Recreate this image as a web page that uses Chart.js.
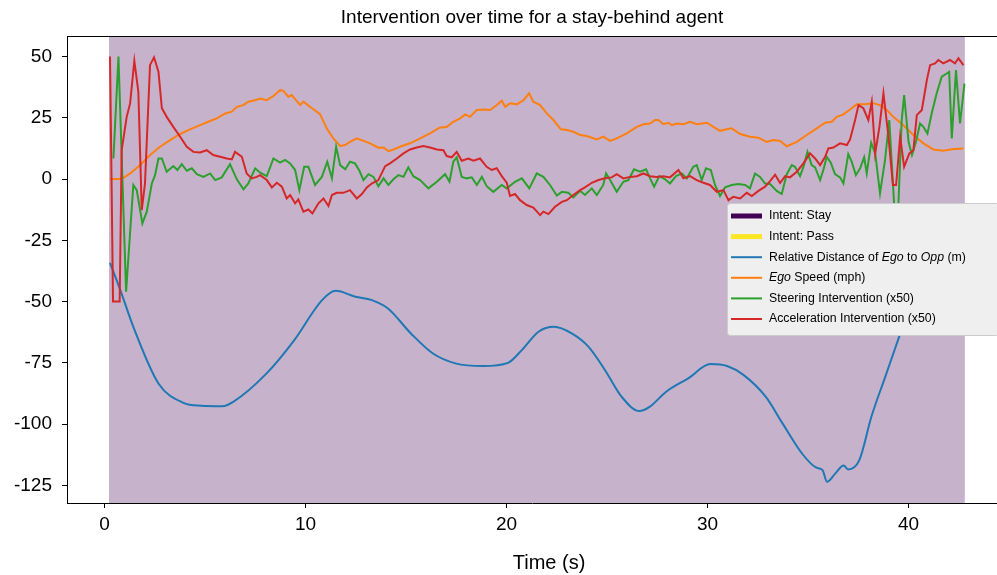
<!DOCTYPE html>
<html>
<head>
<meta charset="utf-8">
<title>Intervention over time</title>
<script src="https://cdn.jsdelivr.net/npm/chart.js@4.4.1/dist/chart.umd.min.js"></script>
<style>
  html, body { margin: 0; padding: 0; background: #fff; overflow: hidden; }
  #wrap { width: 997px; height: 575px; position: relative; }
</style>
</head>
<body>
<div id="wrap"><canvas id="myChart"></canvas></div>
<script>
// Intent spans (seconds)
const intentStart = [0.22];
const intentEnd = [42.8];
const intentName = ['Stay'];

// Relative distance of ego to opponent (m)
const distT = [0.27, 0.77, 1.43, 2.68, 3.92, 4.8, 5.85, 6.4, 8.06, 9.44, 10.82, 11.5, 12.48, 13.3, 14.1, 15.24, 16.34, 17.45, 18.83, 20.07, 20.76, 21.59, 22.36, 23.24, 24.07, 24.9, 25.73, 26.61, 27.11, 27.94, 29.04, 30.14, 30.97, 31.8, 32.9, 33.73, 34.7, 35.39, 35.72, 35.94, 36.36, 36.77, 36.99, 37.55, 38.15, 38.84, 39.53, 40.0, 40.5, 41.0, 41.5, 42.0, 42.75];
const distV = [-34.2, -45, -60.3, -83.4, -91.3, -92.5, -92.7, -90.9, -79.3, -65.7, -49.4, -45.6, -48, -49.4, -52.8, -63, -71.2, -75.2, -76.3, -75, -69.8, -62.3, -60.3, -63, -68.4, -78, -88.9, -94.7, -93, -86.8, -81.3, -75.5, -76.3, -80, -88.9, -99.7, -112, -117.7, -118.8, -123.5, -120.1, -116.9, -118.5, -114.7, -97, -80.7, -64.4, -53, -43, -35, -28, -23, -20];

// Ego speed (mph)
const speedT = [0.27, 0.85, 1.27, 1.77, 2.26, 2.76, 3.26, 3.76, 4.25, 4.75, 5.25, 5.58, 6.0, 6.33, 6.58, 6.9, 7.15, 7.49, 7.74, 8.07, 8.4, 8.73, 8.9, 9.14, 9.31, 9.73, 9.89, 10.22, 10.72, 11.05, 11.38, 11.72, 11.97, 12.21, 12.55, 12.88, 13.21, 13.62, 13.88, 14.12, 14.37, 14.79, 15.2, 15.7, 16.19, 16.69, 17.02, 17.35, 17.69, 17.94, 18.18, 18.52, 18.85, 19.18, 19.52, 19.76, 19.93, 20.17, 20.51, 20.84, 21.12, 21.33, 21.67, 22.0, 22.33, 22.7, 23.0, 23.32, 23.66, 23.99, 24.49, 24.81, 25.15, 25.48, 25.98, 26.48, 26.81, 27.14, 27.39, 27.55, 27.8, 28.05, 28.22, 28.47, 28.8, 29.13, 29.46, 29.96, 30.29, 30.62, 30.95, 31.2, 31.62, 32.11, 32.53, 32.94, 33.27, 33.61, 33.94, 34.44, 34.93, 35.43, 35.85, 36.18, 36.43, 36.76, 37.09, 37.42, 37.84, 38.25, 38.58, 38.92, 39.24, 39.74, 40.24, 40.74, 41.23, 41.73, 42.15, 42.73];
const speedV = [0, 0, 2.3, 5.7, 9.8, 13.2, 15.9, 18.4, 20.3, 22, 23.7, 24.8, 26.8, 27.5, 29.5, 30.2, 31.6, 32.2, 32.9, 32.2, 33.9, 36.3, 36, 33.6, 34.3, 30.2, 31.6, 29.5, 26.5, 20.7, 16.6, 13.5, 13.9, 15.2, 16.6, 15.6, 14.6, 12.8, 12.9, 11.4, 12.1, 13.5, 14.6, 16.6, 18.7, 21.1, 21.3, 23.4, 24.8, 26.4, 25.4, 28.2, 28.4, 28.2, 30.2, 32, 29.5, 30.9, 30.5, 32.2, 35, 31.6, 30.2, 26.8, 24.1, 20.3, 20, 19.3, 18, 17.6, 16.2, 17.3, 15.6, 16.6, 18.7, 21.3, 22.4, 22.7, 24.1, 24.1, 22.4, 23, 22, 22.7, 22.4, 23.4, 22.4, 23, 21.3, 19.7, 20.3, 20.7, 18.4, 17.3, 16.9, 15.2, 15.9, 15.6, 13.4, 15.2, 18, 20.7, 23, 23.4, 25.4, 26.4, 28.4, 30.5, 30.5, 30.9, 30.2, 28.2, 25.4, 22, 18, 14.6, 12.1, 11.6, 12.2, 12.5];

// Steering intervention (x50)
const steerT = [0.44, 0.69, 1.07, 1.43, 1.6, 1.88, 2.1, 2.35, 2.51, 2.68, 2.85, 3.09, 3.42, 3.62, 3.84, 4.09, 4.34, 4.59, 4.92, 5.25, 5.5, 5.83, 6.24, 6.58, 6.91, 7.15, 7.49, 7.74, 8.07, 8.4, 8.73, 8.98, 9.23, 9.48, 9.69, 9.93, 10.14, 10.47, 10.81, 11.08, 11.31, 11.52, 11.72, 11.97, 12.21, 12.46, 12.68, 12.88, 13.13, 13.38, 13.62, 13.88, 14.12, 14.37, 14.62, 14.87, 15.11, 15.36, 15.7, 16.11, 16.53, 16.94, 17.16, 17.35, 17.52, 17.77, 18.02, 18.27, 18.52, 18.77, 19.01, 19.34, 19.76, 20.01, 20.42, 20.76, 21.13, 21.5, 21.83, 22.16, 22.5, 22.75, 23.07, 23.32, 23.66, 23.9, 24.24, 24.49, 24.81, 24.95, 25.15, 25.48, 25.81, 26.06, 26.34, 26.64, 26.94, 27.14, 27.34, 27.6, 27.89, 28.13, 28.43, 28.72, 28.97, 29.29, 29.46, 29.71, 29.92, 30.16, 30.37, 30.62, 30.87, 31.2, 31.53, 31.87, 32.11, 32.36, 32.61, 32.86, 33.11, 33.44, 33.69, 33.94, 34.19, 34.35, 34.6, 34.77, 34.97, 35.18, 35.35, 35.6, 35.76, 35.93, 36.13, 36.34, 36.59, 36.76, 37.0, 37.17, 37.38, 37.59, 37.79, 37.92, 38.14, 38.34, 38.58, 38.83, 39.04, 39.28, 39.49, 39.66, 39.78, 40.0, 40.17, 40.37, 40.57, 40.74, 40.94, 41.15, 41.4, 41.65, 41.9, 42.02, 42.15, 42.36, 42.56, 42.78];
const steerV = [8.4, 50, -46, -2.4, -4.5, -18.1, -13.3, -1.8, 1.6, 8.4, 8.4, 3, 5.3, 3.7, 6.1, 3.4, 4.4, 2, 0.9, 2.3, -0.4, 0.7, 6.1, -0.1, -4.2, -1.8, 4.4, 2.6, 1.2, 8.4, 6.7, 7.8, 6.4, 3.7, -4.5, 5, 5, -2.4, 0.9, 7.1, 0.3, 13.2, 5.7, 4, 7.1, 6.4, 3.4, -0.4, 2, 0.9, -2.9, 0.3, -2.4, -0.1, 1.6, 0.9, 4.8, 1.2, -0.4, -3.8, -1.1, 2, -1.1, 7.1, 8.9, 0.9, 0.3, 0.7, -2.4, 0.9, -2.9, -5.2, -2.4, -3.8, -1.1, 0.3, -3.8, 2.3, 0.9, -2.4, -6.7, -5.2, -5.6, -7.5, -4.8, -6.5, -3.8, -6.5, -2.4, 2.3, -0.4, -5.2, -1.1, -0.4, 4, 3, 4, 0.3, -3.1, 1.2, -0.1, -1.8, 1.2, 2.3, 0.3, 5, 5.7, -0.4, 4.4, 3.7, -2.4, -6.9, -3.4, -2.4, -2, -2.4, -3.8, 2.3, 0.9, -1.8, -2, -4.8, -6.1, 2, 5.7, 5, 1.2, 5, 11.1, 5.7, 4.8, -0.4, 3.7, 9.1, 6.7, 2, 0.7, -1.8, 10.2, 7.1, 1.6, 4.4, 8.9, 2.3, 14.8, 10.5, -5.8, 7.8, 24.1, -9.9, -11.3, 24.1, 34.3, 15.2, 9.8, 15.2, 22.7, 21.3, 18.6, 26.8, 35, 41.8, 43.1, 43.8, 16.6, 44.5, 22.7, 39];

// Acceleration intervention (x50)
const accelT = [0.27, 0.42, 0.75, 0.85, 1.1, 1.27, 1.48, 1.68, 1.85, 2.01, 2.26, 2.46, 2.68, 2.85, 3.09, 3.42, 3.76, 4.09, 4.42, 4.75, 5.08, 5.41, 5.75, 6.08, 6.33, 6.49, 6.83, 7.07, 7.32, 7.57, 7.74, 8.07, 8.32, 8.57, 8.82, 9.06, 9.23, 9.48, 9.64, 9.89, 10.14, 10.34, 10.64, 10.89, 11.14, 11.31, 11.55, 11.88, 12.21, 12.55, 12.8, 13.05, 13.29, 13.62, 13.96, 14.2, 14.54, 14.87, 15.2, 15.53, 15.86, 16.19, 16.53, 16.86, 17.02, 17.27, 17.52, 17.77, 18.1, 18.35, 18.68, 19.01, 19.26, 19.51, 19.76, 20.01, 20.17, 20.42, 20.67, 21.0, 21.33, 21.67, 21.83, 22.08, 22.41, 22.75, 23.0, 23.32, 23.66, 23.9, 24.24, 24.57, 24.9, 25.23, 25.48, 25.81, 26.14, 26.48, 26.81, 27.14, 27.47, 27.8, 28.13, 28.55, 28.8, 29.13, 29.46, 29.79, 30.12, 30.46, 30.79, 31.04, 31.28, 31.62, 31.95, 32.2, 32.53, 32.86, 33.11, 33.36, 33.61, 33.86, 34.1, 34.44, 34.77, 35.1, 35.35, 35.6, 35.85, 36.01, 36.26, 36.59, 36.93, 37.09, 37.34, 37.51, 37.75, 38.0, 38.17, 38.34, 38.55, 38.75, 39.0, 39.22, 39.38, 39.58, 39.78, 40.04, 40.24, 40.41, 40.66, 40.91, 41.07, 41.32, 41.48, 41.73, 42.06, 42.31, 42.48, 42.73];
const accelV = [50, -50, -50, 11.8, 25.4, 30.9, 48.3, 35.6, -12.7, -1.8, 46.5, 49.7, 43.8, 28.9, 25.4, 21.3, 17.3, 13.2, 11.1, 10.9, 11.8, 9.8, 9.1, 8.4, 8, 11.1, 9.1, 2.3, 0.3, 0.9, 1.6, -0.4, -3.4, -1.5, -3.1, -7.9, -6.5, -9.9, -8.3, -13.3, -12.4, -14, -9.9, -7.9, -11, -6.5, -5.6, -5.6, -4.5, -7.9, -6.1, -3.4, -1.8, -0.4, 5.3, 6.4, 8.4, 10.5, 12.1, 12.9, 13.5, 12.9, 12.1, 11.8, 9.4, 8.9, 11.1, 7.5, 8.4, 7.5, 8.4, 5, 3.7, 4.4, 1.2, -1.5, -6.9, -6.1, -8.6, -10.6, -11.6, -14.7, -13.3, -14.3, -11.3, -9.3, -8.6, -6.5, -4.5, -3.4, -1.5, -0.4, 0.3, 0.7, 2, 0.3, 0.9, 1.2, 2.3, 1.2, 0.9, 1.2, 0.7, 3.7, 0.3, 1.2, -0.4, -1.5, -2.4, -5.2, -4.5, -8.6, -7.2, -7.9, -5.6, -6.9, -4.8, -3.1, -0.8, 1.8, -1.6, 1.2, 0.7, 3, 6.4, 10.5, 8.4, 5.7, 9.1, 12.5, 12.9, 14.6, 13.9, 16.2, 24.1, 30.2, 28.9, 24.1, 31.6, 10.5, 21.3, 35, 17.3, -2.4, -2.4, 17.3, 5, 10.5, 11.8, 26.1, 28.2, 40.4, 46.5, 47.2, 48.6, 47.2, 48.6, 47.2, 49.3, 46.5];

// Axis ticks
const xTicks = [0, 10, 20, 30, 40];
const yTicks = [-125, -100, -75, -50, -25, 0, 25, 50];

// Legend entries: label pieces as [text, italic]
const legendItems = [
  { color: '#440154', width: 5, parts: [['Intent: Stay', false]] },
  { color: '#fde725', width: 5, parts: [['Intent: Pass', false]] },
  { color: '#1f77b4', width: 2, parts: [['Relative Distance of ', false], ['Ego', true], [' to ', false], ['Opp', true], [' (m)', false]] },
  { color: '#ff7f0e', width: 2, parts: [['Ego', true], [' Speed (mph)', false]] },
  { color: '#2ca02c', width: 2, parts: [['Steering Intervention (x50)', false]] },
  { color: '#d62728', width: 2, parts: [['Acceleration Intervention (x50)', false]] }
];

const FONT = "'Liberation Sans', Arial, Helvetica, sans-serif";

function pts(t, v) {
  return t.map((x, i) => ({ x: x, y: v[i] }));
}

// Shaded intent spans behind the lines
const spanPlugin = {
  id: 'intentSpans',
  beforeDatasetsDraw(chart) {
    const { ctx, chartArea, scales } = chart;
    ctx.save();
    ctx.fillStyle = 'rgba(68,1,84,0.3)';
    intentStart.forEach((s, i) => {
      const x0 = scales.x.getPixelForValue(s);
      const x1 = scales.x.getPixelForValue(intentEnd[i]);
      ctx.fillRect(x0, chartArea.top, x1 - x0, chartArea.bottom - chartArea.top);
    });
    ctx.restore();
  }
};

// Top spine, titles and the boxed legend
const decorPlugin = {
  id: 'decor',
  afterDraw(chart) {
    const { ctx, chartArea } = chart;
    ctx.save();
    ctx.strokeStyle = '#000';
    ctx.lineWidth = 1;
    ctx.beginPath();
    ctx.moveTo(chartArea.left, chartArea.top + 0.5);
    ctx.lineTo(chartArea.right, chartArea.top + 0.5);
    ctx.stroke();

    ctx.fillStyle = '#000';
    ctx.textAlign = 'center';
    ctx.textBaseline = 'middle';
    ctx.font = '19px ' + FONT;
    ctx.fillText('Intervention over time for a stay-behind agent', 532, 18);
    ctx.font = '20px ' + FONT;
    ctx.fillText('Time (s)', 549, 563);

    // legend box
    const bx = 727, by = 203, bw = 272, bh = 132;
    ctx.fillStyle = '#efefef';
    ctx.strokeStyle = '#cccccc';
    ctx.beginPath();
    ctx.roundRect(bx + 0.5, by + 0.5, bw, bh, 3);
    ctx.fill();
    ctx.stroke();

    ctx.textAlign = 'left';
    ctx.textBaseline = 'middle';
    legendItems.forEach((item, i) => {
      const y = by + 13 + i * 20.6;
      ctx.strokeStyle = item.color;
      ctx.lineWidth = item.width;
      ctx.beginPath();
      ctx.moveTo(731, y);
      ctx.lineTo(762, y);
      ctx.stroke();
      let x = 769;
      ctx.fillStyle = '#000';
      item.parts.forEach(([txt, it]) => {
        ctx.font = (it ? 'italic ' : '') + '12.3px ' + FONT;
        ctx.fillText(txt, x, y);
        x += ctx.measureText(txt).width;
      });
    });
    ctx.restore();
  }
};

const lineStyle = { pointRadius: 0, borderWidth: 2, fill: false, showLine: true };

const data = {
  datasets: [
    Object.assign({ label: 'Relative Distance', data: pts(distT, distV), borderColor: '#1f77b4', cubicInterpolationMode: 'monotone', order: 4 }, lineStyle),
    Object.assign({ label: 'Ego Speed', data: pts(speedT, speedV), borderColor: '#ff7f0e', tension: 0, order: 3 }, lineStyle),
    Object.assign({ label: 'Steering Intervention', data: pts(steerT, steerV), borderColor: '#2ca02c', tension: 0, order: 2 }, lineStyle),
    Object.assign({ label: 'Acceleration Intervention', data: pts(accelT, accelV), borderColor: '#d62728', tension: 0, order: 1 }, lineStyle)
  ]
};

const config = {
  type: 'scatter',
  data: data,
  options: {
    responsive: true,
    maintainAspectRatio: false,
    devicePixelRatio: 1,
    animation: false,
    layout: { padding: { top: 36, right: 0, left: 0, bottom: 0 } },
    plugins: {
      legend: { display: false },
      title: { display: false },
      tooltip: { enabled: false }
    },
    scales: {
      x: {
        type: 'linear',
        min: -1.87,
        max: 44.4,
        afterFit: (s) => { s.height = 72; },
        afterBuildTicks: (s) => { s.ticks = xTicks.map(v => ({ value: v })); },
        ticks: { font: { size: 19, family: FONT }, color: '#000', padding: 5, maxRotation: 0 },
        grid: { drawOnChartArea: false, drawTicks: true, tickLength: 5, color: '#000' },
        border: { color: '#000', width: 1 }
      },
      y: {
        type: 'linear',
        min: -132.2,
        max: 58.4,
        afterFit: (s) => { s.width = 67; },
        afterBuildTicks: (s) => { s.ticks = yTicks.map(v => ({ value: v })); },
        ticks: {
          font: { size: 19, family: FONT },
          color: '#000',
          padding: 10,
          callback: (v) => String(v)
        },
        grid: { drawOnChartArea: false, drawTicks: true, tickLength: 5, color: '#000' },
        border: { color: '#000', width: 1 }
      }
    }
  },
  plugins: [spanPlugin, decorPlugin]
};

const ctx = document.getElementById('myChart').getContext('2d');
const myChart = new Chart(ctx, config);
</script>
</body>
</html>
